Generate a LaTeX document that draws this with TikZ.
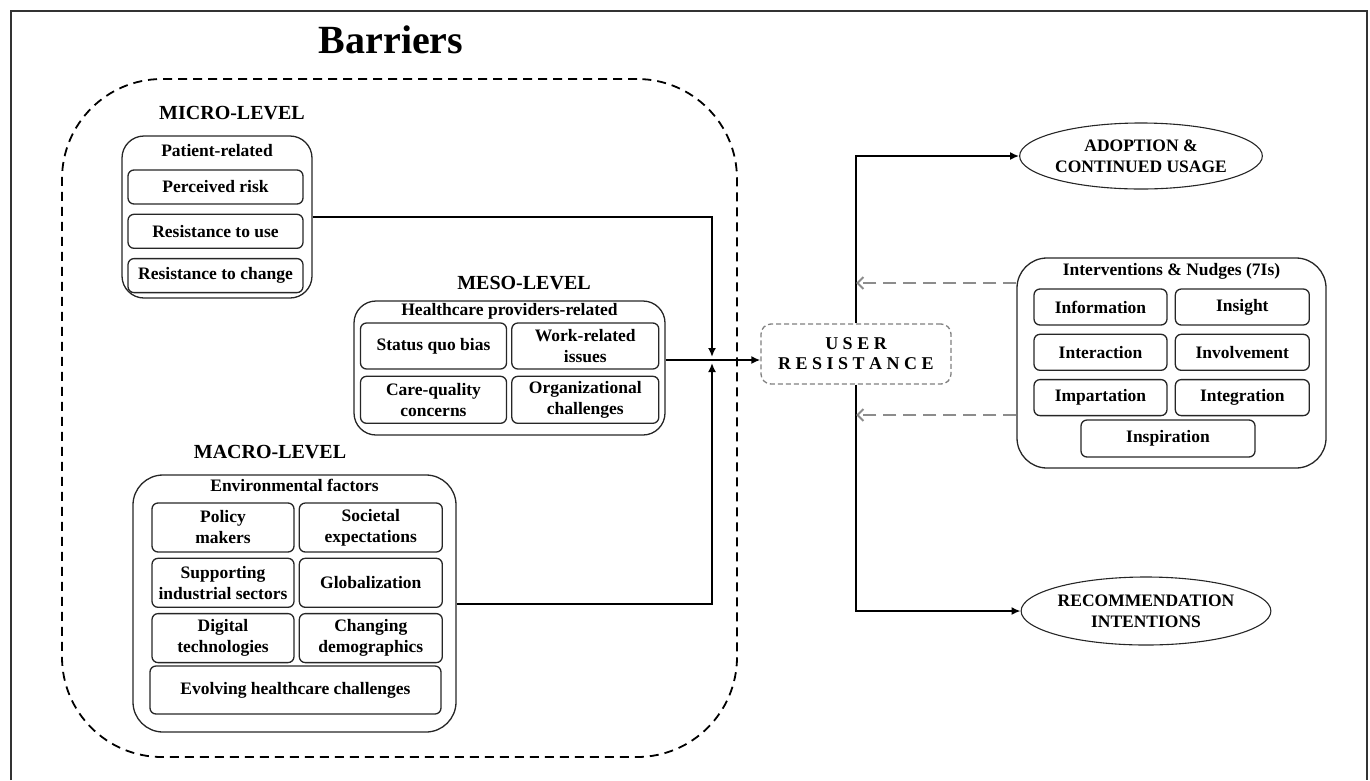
\documentclass[tikz,border=0pt]{standalone}
\usepackage{fontspec}
\setmainfont{Liberation Serif}
\usepackage{tikz}
\usetikzlibrary{positioning, arrows.meta, shapes.geometric}

\begin{document}
\begin{tikzpicture}[x=1pt, y=-1pt, thick,
    every node/.style={font=\bfseries\fontsize{17.5}{21}\selectfont, align=center, inner sep=0pt},
    grp/.style={draw=black!85, line width=1.3pt, rounded corners=22pt},
    item/.style={draw=black!85, line width=1.3pt, rounded corners=6pt},
    lvl/.style={font=\bfseries\fontsize{20}{24}\selectfont},
    outc/.style={draw=black!85, line width=1.1pt, ellipse, minimum width=230pt, minimum height=66pt},
    conn/.style={line width=2pt, -{Latex[length=9pt,width=8pt]}},
    fb/.style={draw=black!45, line width=2pt, dash pattern=on 13pt off 7pt, -{Straight Barb[length=6pt,width=12pt]}}]
    \useasboundingbox (0,0) rectangle (1370,780);
    \draw[line width=2pt, black!80] (11,780) -- (11,11) -- (1367,11) -- (1367,780);

    % barriers
    \node[font=\bfseries\fontsize{40}{48}\selectfont] (btitle) at (391,40) {Barriers};
    \node[draw, line width=1.8pt, dash pattern=on 9pt off 6pt, rounded corners=100pt, minimum width=675pt, minimum height=678pt] (bar) at (399.5,418) {};

    % micro
    \node[lvl] (micro) at (232,113) {MICRO-LEVEL};
    \node[grp, minimum width=190pt, minimum height=162pt] (pat) at (217,217) {};
    \node[below=9pt of pat.north] (patt) {Patient-related};
    \node[item, minimum width=175pt, minimum height=34pt] (risk) at (215.5,187) {Perceived risk};
    \node[item, minimum width=175pt, minimum height=34pt, below=9pt of risk] (ruse) {Resistance to use};
    \node[item, minimum width=175pt, minimum height=34pt, below=9pt of ruse] (rchg) {Resistance to change};

    % meso
    \node[lvl] (mesol) at (524,283) {MESO-LEVEL};
    \node[grp, minimum width=311pt, minimum height=134pt] (meso) at (509.5,368) {};
    \node[below=3pt of meso.north] (mesot) {Healthcare providers-related};
    \node[item, minimum width=146pt, minimum height=46pt] (sqb) at (433.5,346) {Status quo bias};
    \node[item, minimum width=147pt, minimum height=46pt, right=4pt of sqb] (work) {Work-related\\issues};
    \node[item, minimum width=146pt, minimum height=47pt, below=6pt of sqb] (care) {Care-quality\\concerns};
    \node[item, minimum width=147pt, minimum height=47pt, right=4pt of care] (org) {Organizational\\challenges};

    % macro
    \node[lvl] (macro) at (270,452) {MACRO-LEVEL};
    \node[grp, rounded corners=30pt, minimum width=323pt, minimum height=257pt] (env) at (294.5,603.5) {};
    \node[below=4pt of env.north] (envt) {Environmental factors};
    \node[item, minimum width=142pt, minimum height=49pt] (policy) at (223,527.5) {Policy\\makers};
    \node[item, minimum width=143pt, minimum height=49pt, right=4pt of policy] (soc) {Societal\\expectations};
    \node[item, minimum width=142pt, minimum height=49pt, below=5pt of policy] (supp) {Supporting\\industrial sectors};
    \node[item, minimum width=143pt, minimum height=49pt, right=4pt of supp] (glob) {Globalization};
    \node[item, minimum width=142pt, minimum height=49pt, below=5pt of supp] (digi) {Digital\\technologies};
    \node[item, minimum width=143pt, minimum height=49pt, right=4pt of digi] (dem) {Changing\\demographics};
    \node[item, minimum width=291pt, minimum height=48pt] (evolv) at (295.5,690) {Evolving healthcare challenges};

    % user resistance and outcomes
    \node[draw=black!50, line width=1.3pt, dash pattern=on 5pt off 3pt, rounded corners=10pt, minimum width=190pt, minimum height=60pt, font=\bfseries\fontsize{18}{20}\selectfont] (ur) at (856,354) {U S E R\\R E S I S T A N C E};
    \node[outc] (adopt) at (1141,156) {ADOPTION \&\\CONTINUED USAGE};
    \node[outc, minimum height=68pt] (recom) at (1146,611) {RECOMMENDATION\\INTENTIONS};

    % interventions
    \node[grp, rounded corners=30pt, minimum width=309pt, minimum height=210pt] (interv) at (1171.5,363) {};
    \node[below=6pt of interv.north] (intervt) {Interventions \& Nudges (7Is)};
    \node[item, minimum width=133pt, minimum height=36pt] (info) at (1100.5,307) {Information};
    \node[item, minimum width=134pt, minimum height=36pt, right=7pt of info] (insight) {Insight};
    \node[item, minimum width=133pt, minimum height=36pt, below=8pt of info] (inter) {Interaction};
    \node[item, minimum width=134pt, minimum height=36pt, right=7pt of inter] (invol) {Involvement};
    \node[item, minimum width=133pt, minimum height=36pt, below=8pt of inter] (impart) {Impartation};
    \node[item, minimum width=134pt, minimum height=36pt, right=7pt of impart] (integ) {Integration};
    \node[item, minimum width=174pt, minimum height=37pt] (inspir) at (1168,438.5) {Inspiration};

    % connectors
    \coordinate (hub) at (712,360);
    \draw[conn] (pat.east) -| ([yshift=3pt]hub);
    \draw[conn] (env.east) -| ([yshift=-3pt]hub);
    \draw[conn] (meso.east |- hub) -- (ur.west |- hub);
    \draw[conn] (ur.north) |- (adopt.west);
    \draw[conn] (ur.south) |- (recom.west);
    \coordinate (fb1) at ([yshift=80pt]interv.west);
    \coordinate (fb2) at ([yshift=-52pt]interv.west);
    \draw[fb] (fb1) -- (fb1 -| ur.north);
    \draw[fb] (fb2) -- (fb2 -| ur.north);
\end{tikzpicture}
\end{document}
